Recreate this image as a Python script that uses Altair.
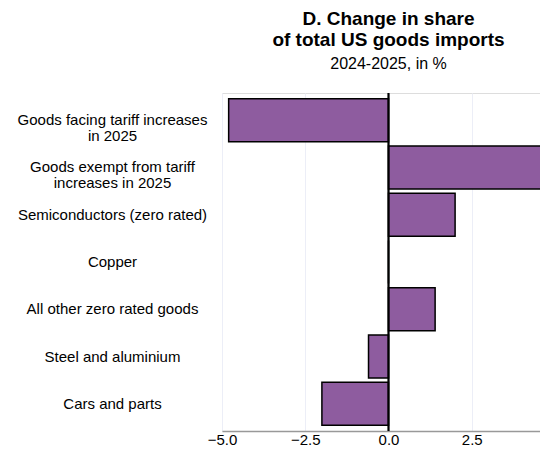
import altair as alt
import pandas as pd

categories = [
    "Goods facing tariff increases|in 2025",
    "Goods exempt from tariff|increases in 2025",
    "Semiconductors (zero rated)",
    "Copper",
    "All other zero rated goods",
    "Steel and aluminium",
    "Cars and parts",
]
values = [-4.8, 4.8, 2.0, 0.0, 1.4, -0.6, -2.0]
x_ticks = [-5.0, -2.5, 0.0, 2.5, 5.0]

df = pd.DataFrame({"category": categories, "value": values})

FONT = "Liberation Sans"

y_enc = alt.Y(
    "category:N",
    sort=categories,
    title=None,
    scale=alt.Scale(paddingInner=0.09, paddingOuter=0.12),
    axis=alt.Axis(
        domain=False,
        ticks=False,
        grid=False,
        labelAlign="center",
        labelBaseline="middle",
        labelPadding=110,
        labelFontSize=15,
        labelFont=FONT,
        labelColor="#000000",
        labelLimit=300,
        labelLineHeight=16,
        labelExpr="split(datum.label, '|')",
    ),
)

x_enc = alt.X(
    "value:Q",
    title=None,
    scale=alt.Scale(domain=[-5, 5], nice=False, zero=False),
    axis=alt.Axis(
        values=x_ticks,
        format=".1f",
        ticks=False,
        grid=True,
        gridColor="#eceef7",
        gridWidth=1,
        domain=True,
        domainColor="#999999",
        domainWidth=1.5,
        labelFontSize=15,
        labelFont=FONT,
        labelColor="#000000",
        labelPadding=1,
        labelFlush=False,
        labelOverlap=False,
    ),
)

bars = alt.Chart(df).mark_bar(
    color="#8e5c9f", stroke="#000000", strokeWidth=1.5
).encode(x=x_enc, y=y_enc)

zero = alt.Chart(pd.DataFrame({"z": [0.0]})).mark_rule(
    color="#000000", strokeWidth=2.2
).encode(x="z:Q")

chart = (
    alt.layer(bars, zero)
    .properties(
        width=333,
        height=338,
        autosize=alt.AutoSizeParams(type="none"),
        padding={"left": 214, "top": 85, "right": -15, "bottom": 19},
        title=alt.TitleParams(
            text=["D. Change in share", "of total US goods imports"],
            subtitle="2024-2025, in %",
            anchor="middle",
            font=FONT,
            fontSize=19,
            fontWeight="bold",
            lineHeight=21,
            color="#000000",
            subtitleFont=FONT,
            subtitleFontSize=16,
            subtitleColor="#000000",
            subtitlePadding=6,
            offset=20,
        ),
    )
    .configure_view(stroke=None)
    .configure(background="#ffffff")
)

chart.save("out.html", embed_options={"renderer": "svg", "actions": False})
